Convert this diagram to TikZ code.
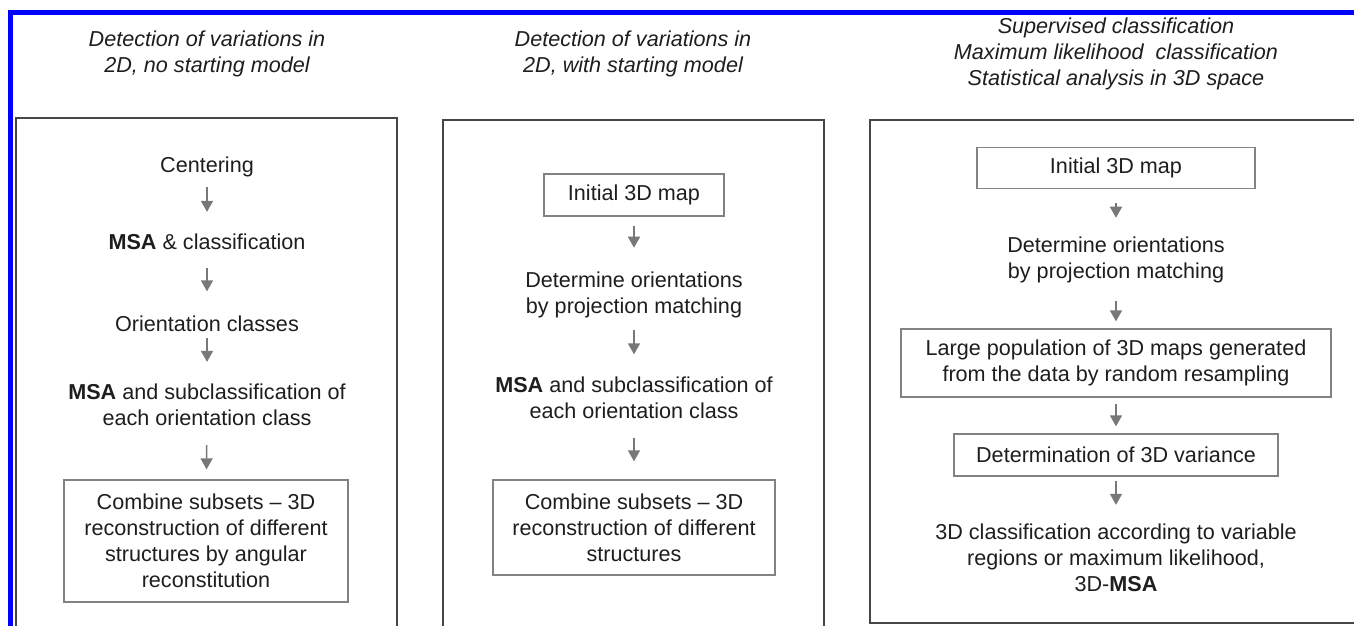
\documentclass[tikz,border=0pt]{standalone}
\usepackage{fontspec}
\setmainfont{Liberation Sans}
\usepackage{xcolor}
\usetikzlibrary{arrows.meta}
\definecolor{frameblue}{RGB}{0,0,255}
\definecolor{inkgray}{RGB}{30,30,30}
\definecolor{panelgray}{RGB}{70,70,70}
\definecolor{boxgray}{RGB}{130,130,130}
\definecolor{arrowgray}{RGB}{120,120,120}

\begin{document}
\begin{tikzpicture}[x=1pt,y=-1pt,
  every node/.style={font=\fontsize{21.6}{26}\selectfont, text=inkgray, align=center, inner sep=0pt},
  headtext/.style={font=\fontsize{21.6}{26}\selectfont\itshape},
  panel/.style={draw=panelgray, line width=1.6pt},
  stepbox/.style={draw=boxgray, line width=1.3pt},
  flow/.style={draw=arrowgray, line width=1.5pt, -{Triangle[width=12pt,length=11pt]}}]
\useasboundingbox (0,0) rectangle (1354,625);
\clip (0,0) rectangle (1354,625);
\fill[white] (0,0) rectangle (1354,625);
\draw[frameblue, line width=4.5pt] (8,12.5) -- (1360,12.5);
\draw[frameblue, line width=4.5pt] (10.5,10) -- (10.5,630);
\draw[panel] (16,118) rectangle (397,640);
\draw[panel] (443,120) rectangle (824,640);
\draw[panel] (870,120) rectangle (1370,623);

\node[headtext] (hda) at (207,54) {Detection of variations in\\2D, no starting model};
\node[headtext] (hdb) at (633,54) {Detection of variations in\\2D, with starting model};
\node[headtext] (hdc) at (1116,54) {Supervised classification\\Maximum likelihood~ classification\\Statistical analysis in 3D space};

\node (cen) at (207,166.5) {Centering};
\node (msaa) at (207,242) {\textbf{MSA} \& classification};
\node (orc) at (207,324) {Orientation classes};
\node (msab) at (207,405) {\textbf{MSA} and subclassification of\\each orientation class};
\node[stepbox, minimum width=284pt, minimum height=122pt] (comba) at (206,541) {Combine subsets -- 3D\\reconstruction of different\\structures by angular\\reconstitution};
\draw[flow, shorten <=10.5pt, shorten >=22pt] (cen) -- (msaa);
\draw[flow, shorten <=18pt, shorten >=24.5pt] (msaa) -- (orc);
\draw[flow, shorten <=6pt, shorten >=22pt] (orc) -- (msab);
\draw[flow, shorten <=19pt, shorten >=10pt] (msab) -- (comba);

\node[stepbox, minimum width=180pt, minimum height=42pt] (inib) at (634,195) {Initial 3D map};
\node (detb) at (634,295) {Determine orientations\\by projection matching};
\node (msac) at (634,397.5) {\textbf{MSA} and subclassification of\\each orientation class};
\node[stepbox, minimum width=282pt, minimum height=95pt] (combb) at (634,527.5) {Combine subsets -- 3D\\reconstruction of different\\structures};
\draw[flow, shorten <=9pt, shorten >=24pt] (inib) -- (detb);
\draw[flow, shorten <=11.5pt, shorten >=22pt] (detb) -- (msac);
\draw[flow, shorten <=19pt, shorten >=18pt] (msac) -- (combb);

\node[stepbox, minimum width=278pt, minimum height=41pt] (inic) at (1116,168) {Initial 3D map};
\node (detc) at (1116,260) {Determine orientations\\by projection matching};
\node[stepbox, minimum width=430pt, minimum height=68pt] (popc) at (1116,363) {Large population of 3D maps generated\\from the data by random resampling};
\node[stepbox, minimum width=324pt, minimum height=42pt] (varc) at (1116,455) {Determination of 3D variance};
\node (clsc) at (1116,558) {3D classification according to variable\\regions or maximum likelihood,\\3D-\textbf{MSA}};
\draw[flow, shorten <=14pt, shorten >=19pt] (inic) -- (detc);
\draw[flow, shorten <=17.5pt, shorten >=7pt] (detc) -- (popc);
\draw[flow, shorten <=6pt, shorten >=7pt] (popc) -- (varc);
\draw[flow, shorten <=4pt, shorten >=19pt] (varc) -- (clsc);
\end{tikzpicture}
\end{document}
